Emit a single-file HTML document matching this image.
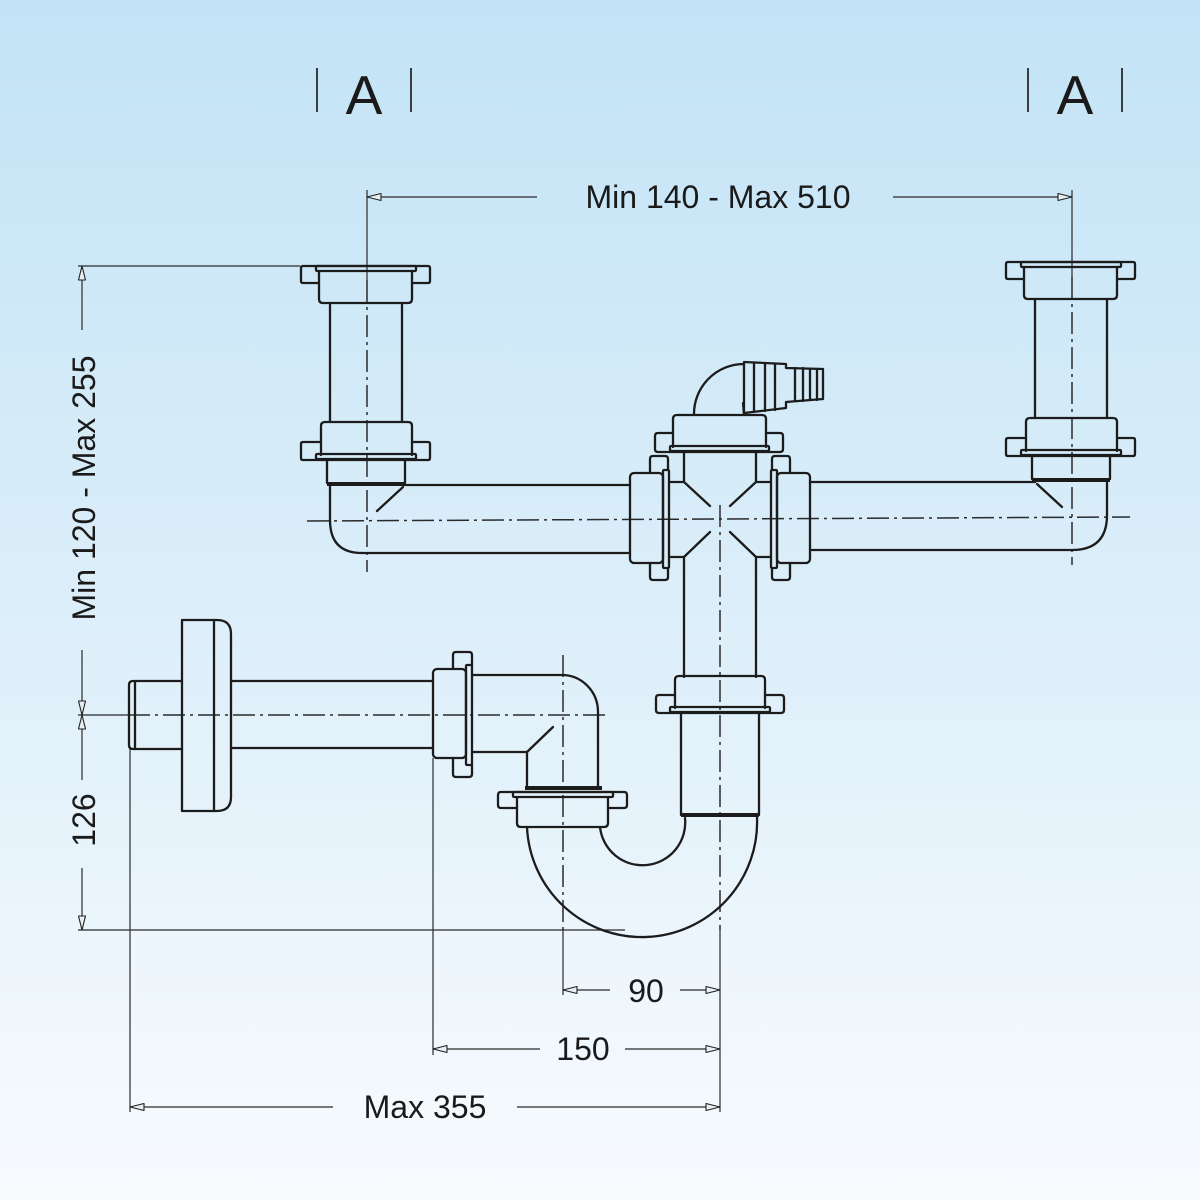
<!DOCTYPE html>
<html><head><meta charset="utf-8"><style>
html,body{margin:0;padding:0;}
body{width:1200px;height:1200px;overflow:hidden;background:linear-gradient(180deg,#c2e3f6 0%,#d9edf9 45%,#f8fbfe 100%);}
svg{display:block;}
.o{fill:none;stroke:#1c1c1c;stroke-width:2.3;stroke-linejoin:round;stroke-linecap:round;}
.t{fill:none;stroke:#2a2a2a;stroke-width:1.2;}
.c{fill:none;stroke:#2a2a2a;stroke-width:1.5;stroke-dasharray:22 5 3 5;}
.a{fill:#e8eef2;stroke:#222;stroke-width:1.1;stroke-linejoin:round;}
.b{fill:#1c1c1c;}
text{font-family:"Liberation Sans",Arial,sans-serif;fill:#1a1a1a;}
</style></head><body>
<svg width="1200" height="1200" viewBox="0 0 1200 1200" xmlns="http://www.w3.org/2000/svg">

<!-- Section markers A -->
<g class="t" style="stroke-width:1.8">
<line x1="317" y1="68" x2="317" y2="112"/><line x1="411" y1="68" x2="411" y2="112"/>
<line x1="1028" y1="68" x2="1028" y2="112"/><line x1="1122" y1="68" x2="1122" y2="112"/>
</g>
<text x="364" y="114" font-size="55" text-anchor="middle">A</text>
<text x="1075" y="114" font-size="55" text-anchor="middle">A</text>

<!-- Top dimension -->
<g class="t">
<line x1="367" y1="190" x2="367" y2="280"/>
<line x1="1072" y1="190" x2="1072" y2="277"/>
<line x1="367" y1="197" x2="537" y2="197"/>
<line x1="893" y1="197" x2="1072" y2="197"/>
</g>
<polygon class="a" points="367,197 381,193.5 381,200.5"/>
<polygon class="a" points="1072,197 1058,193.5 1058,200.5"/>
<text x="718" y="208" font-size="32" text-anchor="middle">Min 140 - Max 510</text>

<!-- Left vertical dimension -->
<g class="t">
<line x1="78" y1="266" x2="300" y2="266"/>
<line x1="78" y1="715" x2="128" y2="715"/>
<line x1="78" y1="930" x2="625" y2="930"/>
<line x1="82" y1="266" x2="82" y2="330"/>
<line x1="82" y1="650" x2="82" y2="715"/>
<line x1="82" y1="715" x2="82" y2="780"/>
<line x1="82" y1="868" x2="82" y2="930"/>
</g>
<polygon class="a" points="82,266 78.5,280 85.5,280"/>
<polygon class="a" points="82,715 78.5,701 85.5,701"/>
<polygon class="a" points="82,715 78.5,729 85.5,729"/>
<polygon class="a" points="82,930 78.5,916 85.5,916"/>
<text transform="translate(95,488) rotate(-90)" font-size="32" text-anchor="middle">Min 120 - Max 255</text>
<text transform="translate(95,820) rotate(-90)" font-size="32" text-anchor="middle">126</text>

<!-- Bottom dimensions -->
<g class="t">
<line x1="130" y1="749" x2="130" y2="1112"/>
<line x1="433" y1="758" x2="433" y2="1055"/>
<line x1="563" y1="930" x2="563" y2="995"/>
<line x1="720" y1="930" x2="720" y2="1112"/>
<line x1="563" y1="990" x2="610" y2="990"/>
<line x1="680" y1="990" x2="720" y2="990"/>
<line x1="433" y1="1049" x2="540" y2="1049"/>
<line x1="625" y1="1049" x2="720" y2="1049"/>
<line x1="130" y1="1107" x2="333" y2="1107"/>
<line x1="517" y1="1107" x2="720" y2="1107"/>
</g>
<polygon class="a" points="563,990 577,986.5 577,993.5"/>
<polygon class="a" points="720,990 706,986.5 706,993.5"/>
<polygon class="a" points="433,1049 447,1045.5 447,1052.5"/>
<polygon class="a" points="720,1049 706,1045.5 706,1052.5"/>
<polygon class="a" points="130,1107 144,1103.5 144,1110.5"/>
<polygon class="a" points="720,1107 706,1103.5 706,1110.5"/>
<text x="646" y="1002" font-size="32" text-anchor="middle">90</text>
<text x="583" y="1060" font-size="32" text-anchor="middle">150</text>
<text x="425" y="1118" font-size="32" text-anchor="middle">Max 355</text>

<!-- Center lines -->
<g class="c">
<line x1="307" y1="521" x2="1130" y2="517"/>
<line x1="367" y1="280" x2="367" y2="572"/>
<line x1="1072" y1="277" x2="1072" y2="565"/>
<line x1="720" y1="505" x2="720" y2="930"/>
<line x1="128" y1="715" x2="608" y2="715"/>
<line x1="563" y1="655" x2="563" y2="930"/>
</g>

<!-- Left tailpiece stack -->
<g id="stack">
<path class="o" d="M319,283 H303 Q301,283 301,281 V268 Q301,266 303,266 H428 Q430,266 430,268 V281 Q430,283 428,283 H412"/>
<rect class="o" x="316" y="266" width="100" height="5" rx="1"/>
<path class="o" d="M319,271 V299 Q319,303 323,303 H408 Q412,303 412,299 V271"/>
<path class="o" d="M330,303 V422 M402,303 V422"/>
<path class="o" d="M321,455 V426 Q321,422 325,422 H408 Q412,422 412,426 V455"/>
<path class="o" d="M321,442 H303 Q301,442 301,444 V458 Q301,460 303,460 H428 Q430,460 430,458 V444 Q430,442 428,442 H412"/>
<rect class="o" x="316" y="454" width="100" height="5" rx="1"/>
<path class="o" d="M327,459 V483 M405,459 V483"/>
<rect class="b" x="327" y="482" width="78" height="4"/>
</g>
<use href="#stack" transform="translate(705,-4)"/>

<!-- Left elbow + horizontal pipe -->
<path class="o" d="M330,486 V520 Q330,553 362,553 H630"/>
<path class="o" d="M405,485 H630"/>
<path class="o" d="M403,487 L377,511"/>

<!-- Right elbow + horizontal pipe -->
<path class="o" d="M1107,482 V515 Q1107,550 1072,550 H810"/>
<path class="o" d="M1035,482 H810"/>
<path class="o" d="M1037,484 L1062,507"/>

<!-- Cross: left coupling -->
<rect class="o" x="630" y="473" width="33" height="90" rx="4"/>
<rect class="o" x="663" y="470" width="6" height="98" rx="1"/>
<path class="o" d="M650,473 V459 Q650,456 653,456 H665 Q668,456 668,459 V470"/>
<path class="o" d="M650,563 V577 Q650,580 653,580 H665 Q668,580 668,577 V568"/>
<!-- right coupling -->
<rect class="o" x="777" y="473" width="33" height="90" rx="4"/>
<rect class="o" x="771" y="470" width="6" height="98" rx="1"/>
<path class="o" d="M790,473 V459 Q790,456 787,456 H775 Q772,456 772,459 V470"/>
<path class="o" d="M790,563 V577 Q790,580 787,580 H775 Q772,580 772,577 V568"/>
<!-- top coupling -->
<path class="o" d="M673,447 V419 Q673,415 677,415 H762 Q766,415 766,419 V447"/>
<path class="o" d="M673,433 H658 Q655,433 655,436 V449 Q655,452 658,452 H780 Q783,452 783,449 V436 Q783,433 780,433 H766"/>
<rect class="o" x="670" y="446" width="99" height="5" rx="1"/>
<!-- cross walls -->
<path class="o" d="M684,452 V482 H669 M684,482 L710,506 M756,452 V482 H771 M756,482 L730,506 M669,557 H684 L710,532 M684,557 V677 M771,557 H756 L730,532 M756,557 V677"/>

<!-- Hose connector -->
<path class="o" d="M694,415 A50,50 0 0 1 744,364"/>
<path class="o" d="M743,403 L744,415"/>
<path class="o" d="M744,362 L786,364 V368 L823,369 V399 L786,402 V408 L744,413 Z"/>
<path class="o" d="M754,363 V412 M765,363 V411 M775,364 V410 M795,368 V401 M803,368 V401 M810,369 V400 M817,369 V400"/>

<!-- Lower nut under cross -->
<path class="o" d="M675,708 V680 Q675,676 679,676 H761 Q765,676 765,680 V708"/>
<path class="o" d="M675,695 H659 Q656,695 656,698 V710 Q656,713 659,713 H781 Q784,713 784,710 V698 Q784,695 781,695 H765"/>
<rect class="o" x="670" y="707" width="100" height="5" rx="1"/>
<path class="o" d="M681,712 V815 M759,712 V815"/>
<rect class="b" x="681" y="813" width="78" height="4"/>

<!-- U trap -->
<path class="o" d="M527,827 A114,114 0 0 0 757,817"/>
<path class="o" d="M600,827 A42.5,42.5 0 0 0 685,818"/>

<!-- P-trap inlet nut -->
<path class="o" d="M517,797 V823 Q517,827 521,827 H604 Q608,827 608,823 V797"/>
<path class="o" d="M517,808 H501 Q498,808 498,805 V795 Q498,792 501,792 H624 Q627,792 627,795 V805 Q627,808 624,808 H608"/>
<rect class="o" x="513" y="792" width="100" height="5" rx="1"/>
<rect class="b" x="525" y="786" width="77" height="4"/>

<!-- Elbow above P-trap -->
<path class="o" d="M472,675 H562 A36,37 0 0 1 598,712 V788"/>
<path class="o" d="M472,752 H527 V788"/>
<path class="o" d="M527,752 L553,727"/>

<!-- Coupling at wall pipe -->
<rect class="o" x="433" y="669" width="33" height="89" rx="4"/>
<rect class="o" x="466" y="665" width="6" height="100" rx="1"/>
<path class="o" d="M453,669 V655 Q453,652 456,652 H469 Q472,652 472,655 V665"/>
<path class="o" d="M453,758 V774 Q453,777 456,777 H469 Q472,777 472,774 V765"/>

<!-- Wall pipe, rosette, stub -->
<path class="o" d="M231,681 H433 M231,748 H433"/>
<rect class="o" x="182" y="620" width="32" height="191"/>
<path class="o" d="M214,620 H217 Q231,620 231,634 V797 Q231,811 217,811 H214"/>
<path class="o" d="M182,681 H133 Q129,681 129,685 V745 Q129,749 133,749 H182"/>
<path class="o" d="M135,681 V749"/>

</svg>
</body></html>
